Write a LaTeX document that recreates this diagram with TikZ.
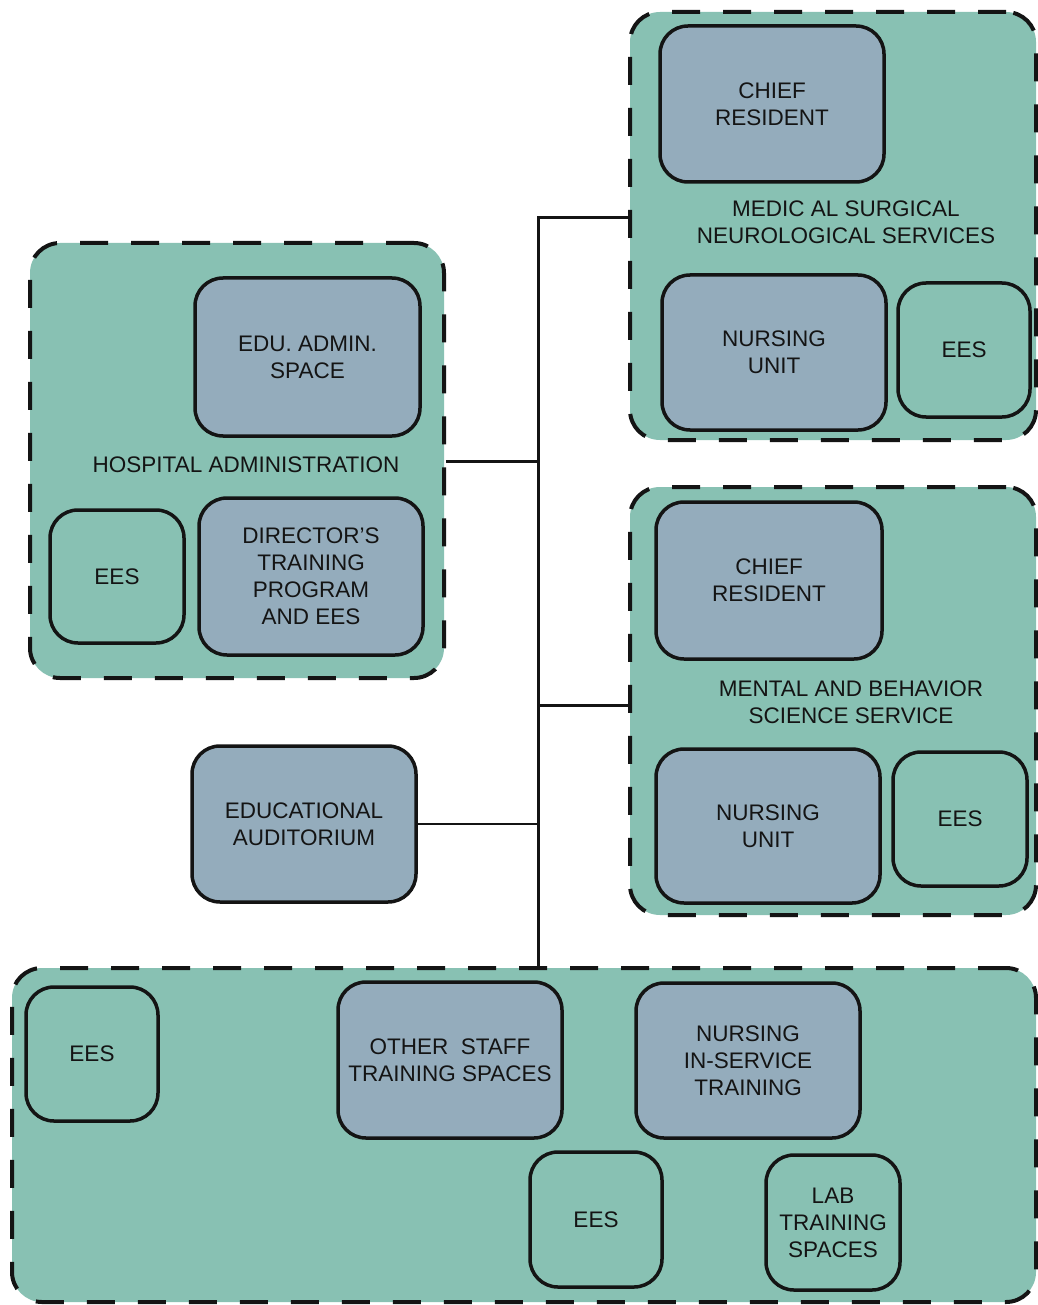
\documentclass[tikz,border=0pt]{standalone}
\usepackage{fontspec}
\setmainfont{Liberation Sans}
\definecolor{tealbg}{RGB}{136,193,179}
\definecolor{roomfill}{RGB}{148,172,188}
\definecolor{ink}{RGB}{20,20,20}
\begin{document}
\begin{tikzpicture}[x=1pt,y=-1pt,
  grp/.style={draw=ink, fill=tealbg, line width=4pt, dash pattern=on 28pt off 23pt, rounded corners=30pt, inner sep=0pt},
  room/.style={draw=ink, fill=roomfill, line width=3.5pt, rounded corners=28pt, align=center, text=ink, font=\fontsize{22.5}{27}\selectfont, inner sep=0pt},
  ees/.style={room, fill=tealbg},
  lbl/.style={align=center, text=ink, font=\fontsize{22.5}{27}\selectfont, inner sep=0pt},
  link/.style={draw=ink, line width=3pt},
  thinlink/.style={draw=ink, line width=2.2pt}]
\useasboundingbox (0,0) rectangle (1037,1305);
\fill[white] (0,0) rectangle (1037,1305);
% groups
\node[grp, minimum width=406pt, minimum height=428pt] (msn) at (833,226) {};
\node[grp, minimum width=414pt, minimum height=435pt] (ha) at (237,460.5) {};
\node[grp, minimum width=406pt, minimum height=428pt] (mbs) at (833,701) {};
\node[grp, minimum width=1024pt, minimum height=334pt] (bot) at (524,1135) {};
% MSN
\node[room, minimum width=224pt, minimum height=156pt] (cr1) at (772,104) {CHIEF\\RESIDENT};
\node[lbl] (msnl) at (846,222) {MEDIC AL SURGICAL\\NEUROLOGICAL SERVICES};
\node[room, minimum width=224pt, minimum height=155pt] (nu1) at (774,352.5) {NURSING\\UNIT};
\node[ees, minimum width=132pt, minimum height=134pt] (ees1) at (964,350) {EES};
% HA
\node[room, minimum width=225pt, minimum height=158pt] (edu) at (307.5,357) {EDU. ADMIN.\\SPACE};
\node[lbl] (hal) at (246,465) {HOSPITAL ADMINISTRATION};
\node[ees, minimum width=134pt, minimum height=133pt] (ees2) at (117,576.5) {EES};
\node[room, minimum width=224pt, minimum height=157pt] (dir) at (311,576.5) {DIRECTOR’S\\TRAINING\\PROGRAM\\AND EES};
% MBS
\node[room, minimum width=226pt, minimum height=157pt] (cr2) at (769,580.5) {CHIEF\\RESIDENT};
\node[lbl] (mbsl) at (851,702) {MENTAL AND BEHAVIOR\\SCIENCE SERVICE};
\node[room, minimum width=224pt, minimum height=154pt] (nu2) at (768,826) {NURSING\\UNIT};
\node[ees, minimum width=134pt, minimum height=134pt] (ees3) at (960,819) {EES};
% auditorium
\node[room, minimum width=224pt, minimum height=156pt] (aud) at (304,824) {EDUCATIONAL\\AUDITORIUM};
% bottom
\node[ees, minimum width=132pt, minimum height=134pt] (ees4) at (92,1054) {EES};
\node[room, minimum width=224pt, minimum height=156pt] (oth) at (450,1060) {OTHER\ \ STAFF\\TRAINING SPACES};
\node[room, minimum width=224pt, minimum height=155pt] (nis) at (748,1060.5) {NURSING\\IN-SERVICE\\TRAINING};
\node[ees, minimum width=132pt, minimum height=135pt] (ees5) at (596,1219.5) {EES};
\node[ees, minimum width=134pt, minimum height=135pt] (lab) at (833,1222.5) {LAB\\TRAINING\\SPACES};
% connectors
\coordinate (j1) at (538,218);
\coordinate (j2) at (538,461);
\coordinate (j3) at (538,705);
\draw[link] (j1 -| msn.west) -- (j1) -- (j1 |- bot.north);
\draw[link] (j2 -| ha.east) -- (j2);
\draw[link] (j3) -- (j3 -| mbs.west);
\draw[thinlink] (aud.east) -- (aud.east -| j1);
\end{tikzpicture}
\end{document}
